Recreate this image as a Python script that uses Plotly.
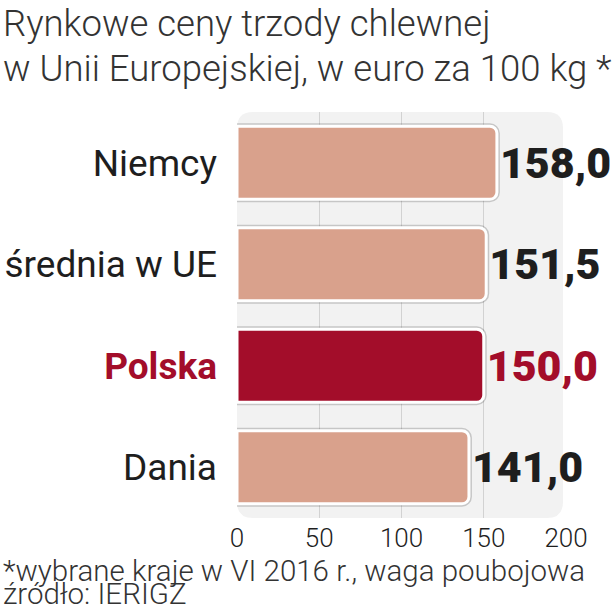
import plotly.graph_objects as go

# data
kraje = ["Niemcy", "średnia w UE", "Polska", "Dania"]
ceny = [158.0, 151.5, 150.0, 141.0]
wyroznione = "Polska"
os_x = [0, 50, 100, 150, 200]
siatka = [50, 100, 150]

TYTUL = ["Rynkowe ceny trzody chlewnej",
         "w Unii Europejskiej, w euro za 100 kg *"]
PRZYPIS = ["*wybrane kraje w VI 2016 r., waga poubojowa",
           "źródło: IERIGZ"]

SALMON = "#d9a18c"
RED = "#a30d2a"
INK = "#1e1e1e"
BG = "#f2f2f2"

W = H = 615
L, R, T, B = 237, 49, 112, 97
PW, PH = W - L - R, H - T - B


def px_x(x):
    return (x - L) / PW


def px_y(y):
    return (H - B - y) / PH


kolory = [RED if k == wyroznione else SALMON for k in kraje]
kolory_txt = [RED if k == wyroznione else INK for k in kraje]
etykiety = [f"{v:.1f}".replace(".", ",") for v in ceny]
ticktext = [f"<b><span style='color:{RED}'>{k}</span></b>" if k == wyroznione else k
            for k in kraje]

fig = go.Figure()
# soft shadow under each bar
fig.add_bar(x=ceny, y=kraje, orientation="h", width=0.72,
            marker=dict(color="rgba(0,0,0,0)", cornerradius=7,
                        line=dict(color="rgba(0,0,0,0.18)", width=6)),
            hoverinfo="skip", showlegend=False)
fig.add_bar(x=ceny, y=kraje, orientation="h", width=0.72,
            marker=dict(color=kolory, cornerradius=7,
                        line=dict(color="white", width=3)),
            text=etykiety, textposition="outside", constraintext="none",
            cliponaxis=False,
            outsidetextfont=dict(family="Roboto", size=43, color=kolory_txt,
                                 weight=900),
            showlegend=False)

# rounded grey plot panel
r = 16
rx, ry = r / PW, r / PH
x1 = px_x(L + PW - 3)
path = (f"M {rx},1 L {x1 - rx},1 Q {x1},1 {x1},{1 - ry} "
        f"L {x1},{ry} Q {x1},0 {x1 - rx},0 L {rx},0 Q 0,0 0,{ry} "
        f"L 0,{1 - ry} Q 0,1 {rx},1 Z")
fig.add_shape(type="path", path=path, xref="paper", yref="paper",
              fillcolor=BG, line_width=0, layer="below")

light = dict(family="Roboto", weight=300, color="#333333")
notes = []
for txt, yc in zip(TYTUL, [23, 69]):
    notes.append(dict(text=txt, x=px_x(1), y=px_y(yc), xanchor="left",
                      yanchor="middle", font=dict(size=36.5, **light)))
for txt, yc in zip(PRZYPIS, [571, 594]):
    notes.append(dict(text=txt, x=px_x(1), y=px_y(yc), xanchor="left",
                      yanchor="middle", font=dict(size=29.5, **light)))
for a in notes:
    a.update(xref="paper", yref="paper", showarrow=False, align="left")

fig.update_layout(
    width=W, height=H,
    margin=dict(l=L, r=R, t=T, b=B),
    paper_bgcolor="white", plot_bgcolor="rgba(0,0,0,0)",
    barmode="overlay", bargap=0.28,
    font=dict(family="Roboto, sans-serif", color=INK),
    xaxis=dict(range=[0, 200], tickvals=os_x, showgrid=False, zeroline=False,
               showline=False, ticks="", ticklabelstandoff=2, automargin=False,
               tickfont=dict(family="Roboto", size=26, weight=300, color=INK)),
    xaxis2=dict(range=[0, 200], overlaying="x", matches="x", tickvals=siatka,
                showgrid=True, gridcolor="#d2d2d2", gridwidth=1,
                showticklabels=False, zeroline=False, ticks=""),
    yaxis=dict(autorange="reversed", tickvals=kraje, ticktext=ticktext,
               showgrid=False, zeroline=False, ticks="", ticklabelstandoff=19,
               automargin=False,
               tickfont=dict(family="Roboto", size=37, color=INK)),
    annotations=notes,
)
# invisible trace to show the grid axis
fig.add_scatter(x=[0], y=[kraje[0]], xaxis="x2", mode="markers",
                marker_opacity=0, hoverinfo="skip", showlegend=False)

fig.write_html("out.html", config={"displayModeBar": False},
               post_script="document.body.style.margin = '0';")
